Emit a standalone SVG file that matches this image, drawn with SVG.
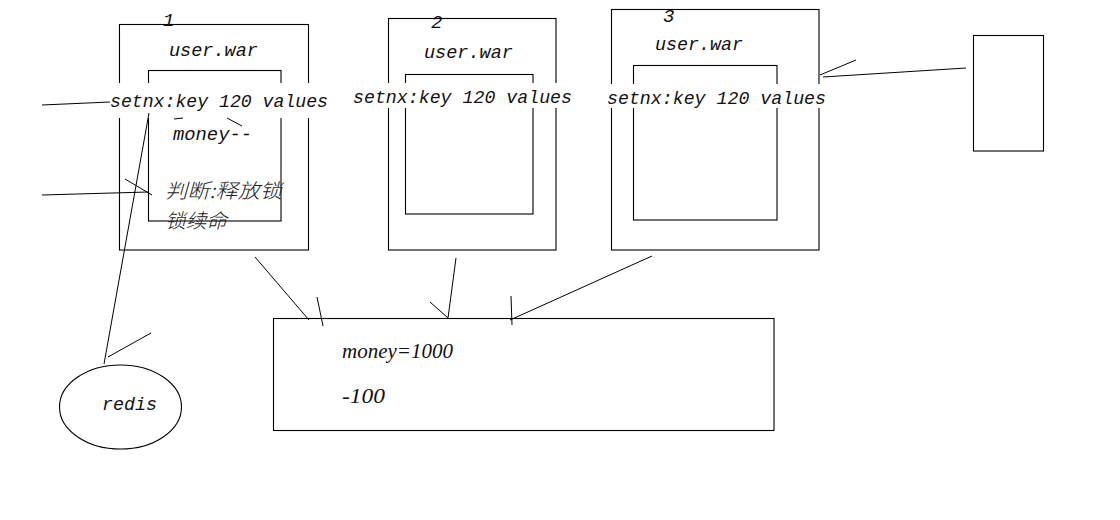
<svg xmlns="http://www.w3.org/2000/svg" width="1120" height="520" viewBox="0 0 1120 520">
<style>
.box{fill:none;stroke:#000;stroke-width:1.1}
.ln{fill:none;stroke:#000;stroke-width:1}
.t{font-family:"Liberation Mono",monospace;font-style:italic;font-size:19px;fill:#111}
.s{font-family:"Liberation Serif",serif;font-style:italic;font-size:21px;fill:#111}
.c{font-family:"Noto Sans CJK SC",sans-serif;font-style:italic;font-weight:300;font-size:20px;fill:#222}
.mask{fill:#fff}
</style>
<rect width="1120" height="520" fill="#fff"/>
<g id="war1">
<rect class="box" x="119.5" y="24.5" width="189" height="225.5"/>
<rect class="box" x="148.5" y="70.5" width="132.5" height="150.5"/>
<text class="t" x="163" y="26">1</text>
<text class="t" x="169" y="56" textLength="89" lengthAdjust="spacingAndGlyphs">user.war</text>
<rect class="mask" x="110" y="83" width="220" height="35"/>
<text class="t" x="110" y="107" textLength="218" lengthAdjust="spacingAndGlyphs">setnx:key 120 values</text>
<text class="t" x="173" y="140" textLength="79" lengthAdjust="spacingAndGlyphs">money--</text>
<text class="c" x="165" y="198" textLength="117" lengthAdjust="spacingAndGlyphs">判断:释放锁</text>
<text class="c" x="165" y="228" textLength="62" lengthAdjust="spacingAndGlyphs">锁续命</text>
</g>
<g id="war2">
<rect class="box" x="388.5" y="18.5" width="167.5" height="231.5"/>
<rect class="box" x="405.5" y="74.5" width="127.5" height="139.5"/>
<text class="t" x="431" y="28">2</text>
<text class="t" x="424" y="58" textLength="89" lengthAdjust="spacingAndGlyphs">user.war</text>
<rect class="mask" x="352" y="83" width="222" height="25"/>
<text class="t" x="353" y="103" textLength="219" lengthAdjust="spacingAndGlyphs">setnx:key 120 values</text>
</g>
<g id="war3">
<rect class="box" x="611.5" y="9.5" width="207.5" height="240.5"/>
<rect class="box" x="633.5" y="65.5" width="143.5" height="154.5"/>
<text class="t" x="663" y="22">3</text>
<text class="t" x="655" y="50" textLength="88" lengthAdjust="spacingAndGlyphs">user.war</text>
<rect class="mask" x="606" y="84" width="222" height="24"/>
<text class="t" x="607" y="104" textLength="219" lengthAdjust="spacingAndGlyphs">setnx:key 120 values</text>
</g>
<g id="client">
<rect class="box" x="973.5" y="35.5" width="70" height="115.5"/>
</g>
<g id="redis">
<ellipse class="box" cx="120.5" cy="407" rx="61" ry="42"/>
<text class="t" x="102" y="410" textLength="55" lengthAdjust="spacingAndGlyphs">redis</text>
</g>
<g id="db">
<rect class="box" x="273.5" y="318.5" width="500.5" height="112"/>
<text class="s" x="342" y="358" textLength="111" lengthAdjust="spacingAndGlyphs">money=1000</text>
<text class="s" x="342" y="403" textLength="43" lengthAdjust="spacingAndGlyphs">-100</text>
</g>
<g id="connectors">
<path class="ln" d="M42 105 L110 102"/>
<path class="ln" d="M174 119 L183 118"/>
<path class="ln" d="M227 118 L242 126"/>
<path class="ln" d="M42 195 L148 192"/>
<path class="ln" d="M125 179 L152 195"/>
<path class="ln" d="M149 113 L104 364"/>
<path class="ln" d="M108 357 L151 333"/>
<path class="ln" d="M255 257 L309 320"/>
<path class="ln" d="M317 297 L323 326"/>
<path class="ln" d="M456 258 L448 318"/>
<path class="ln" d="M430 302 L448 318"/>
<path class="ln" d="M652 256 L510 320"/>
<path class="ln" d="M511 296 L512 325"/>
<path class="ln" d="M966 68 L823 77"/>
<path class="ln" d="M820 75 L856 60"/>
</g>
</svg>
